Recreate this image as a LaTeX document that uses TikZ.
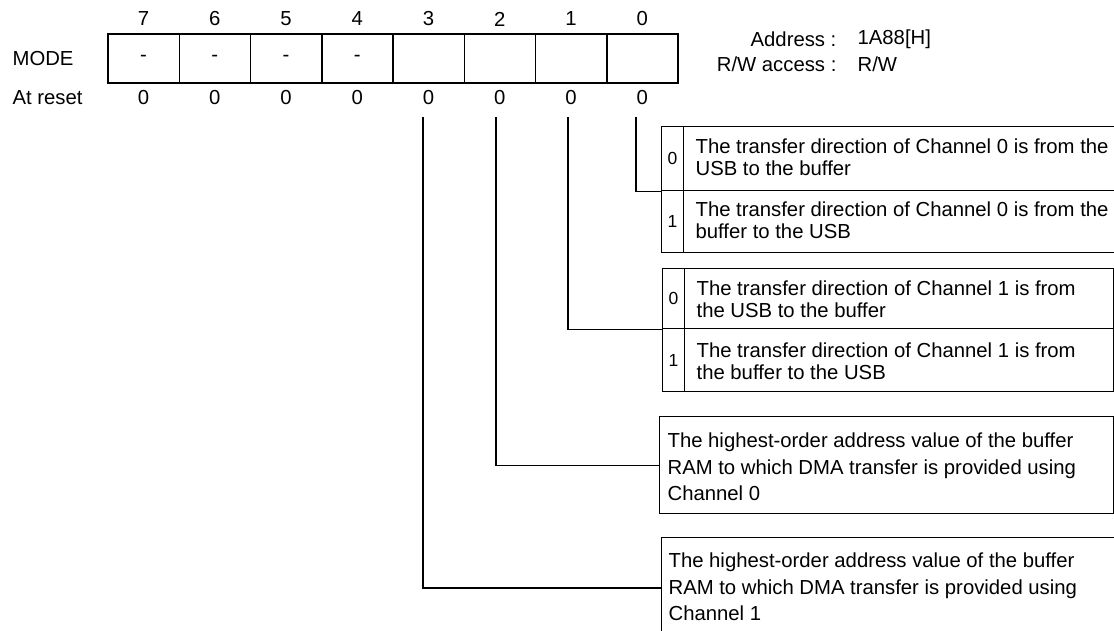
\documentclass[tikz,border=0pt]{standalone}
\usepackage{fontspec}
\setmainfont{Liberation Sans}
\begin{document}
\begin{tikzpicture}[x=1bp,y=-1bp, line width=1.2bp,
  txt/.style={font=\fontsize{20.3bp}{22bp}\selectfont, inner sep=0pt},
  txtb/.style={font=\fontsize{20.3bp}{26.5bp}\selectfont, inner sep=0pt, anchor=west, align=left},
  txtu/.style={font=\fontsize{20.3bp}{22bp}\selectfont, inner sep=0pt, anchor=west, align=left},
  cell/.style={draw, line width=1.5bp, minimum width=71.25bp, minimum height=49bp, inner sep=0pt, font=\fontsize{20.3bp}{22bp}\selectfont},
  bx/.style={draw, inner sep=0pt, anchor=north west},
  idx/.style={font=\fontsize{17.5bp}{18bp}\selectfont, inner sep=0pt},
  conn/.style={line width=1.2bp}]
\useasboundingbox (0,0) rectangle (1114,631);

% labels
\node[txt, anchor=west] (mode) at (12,58.5) {MODE};
\node[txt, anchor=west] (reset) at (12,98) {At reset};

% register cells
\foreach \b/\t in {7/-,6/-,5/-,4/-,3/,2/,1/,0/} {
  \pgfmathsetmacro{\cx}{108+71.25*(7-\b)+35.625}
  \node[cell] (c\b) at (\cx,58.5) {\t};
  \node[txt] (n\b) at (\cx,19) {\b};
  \node[txt] (z\b) at (\cx,98) {0};
}

% address
\node[txt, anchor=east] (addrl) at (837,39) {Address :};
\node[txt, anchor=west] (addrv) at (857,39) {1A88[H]};
\node[txt, anchor=east] (rwl) at (837,64) {R/W access :};
\node[txt, anchor=west] (rwv) at (857,64) {R/W};

% bit 0 boxes
\node[bx, minimum width=456bp, minimum height=64bp] (r00) at (661,126) {};
\node[bx, minimum width=22bp, minimum height=64bp] (i00) at (661,126) {};
\node[idx] (d00) at (i00.center) {0};
\node[txtu] (t00) at (695,157.5) {The transfer direction of Channel 0 is from the\\USB to the buffer};
\node[bx, minimum width=456bp, minimum height=62bp] (r01) at (661,190) {};
\node[bx, minimum width=22bp, minimum height=62bp] (i01) at (661,190) {};
\node[idx] (d01) at (i01.center) {1};
\node[txtu] (t01) at (695,220) {The transfer direction of Channel 0 is from the\\buffer to the USB};

% bit 1 boxes
\node[bx, minimum width=451bp, minimum height=60bp] (r10) at (662,268) {};
\node[bx, minimum width=22bp, minimum height=60bp] (i10) at (662,268) {};
\node[idx] (d10) at (i10.center) {0};
\node[txtu] (t10) at (696,299) {The transfer direction of Channel 1 is from\\the USB to the buffer};
\node[bx, minimum width=451bp, minimum height=63bp] (r11) at (662,328) {};
\node[bx, minimum width=22bp, minimum height=63bp] (i11) at (662,328) {};
\node[idx] (d11) at (i11.center) {1};
\node[txtu] (t11) at (696,361) {The transfer direction of Channel 1 is from\\the buffer to the USB};

% bit 2 box
\node[bx, minimum width=454bp, minimum height=97bp] (r2) at (659,416) {};
\node[txtb] (t2) at (667,467) {The highest-order address value of the buffer\\RAM to which DMA transfer is provided using\\Channel 0};

% bit 3 box
\node[bx, minimum width=456bp, minimum height=100bp] (r3) at (661,537) {};
\node[txtb] (t3) at (668,587) {The highest-order address value of the buffer\\RAM to which DMA transfer is provided using\\Channel 1};

% connectors
\coordinate (s0) at (636,117);
\coordinate (s1) at (568,117);
\coordinate (s2) at (496,117);
\coordinate (s3) at (423,117);
\draw[conn] (s0) |- (r00.south west);
\draw[conn] (s1) |- (r10.south west);
\draw[conn] (s2) |- (r2.west);
\draw[conn] (s3) |- (661,588);
\end{tikzpicture}
\end{document}
